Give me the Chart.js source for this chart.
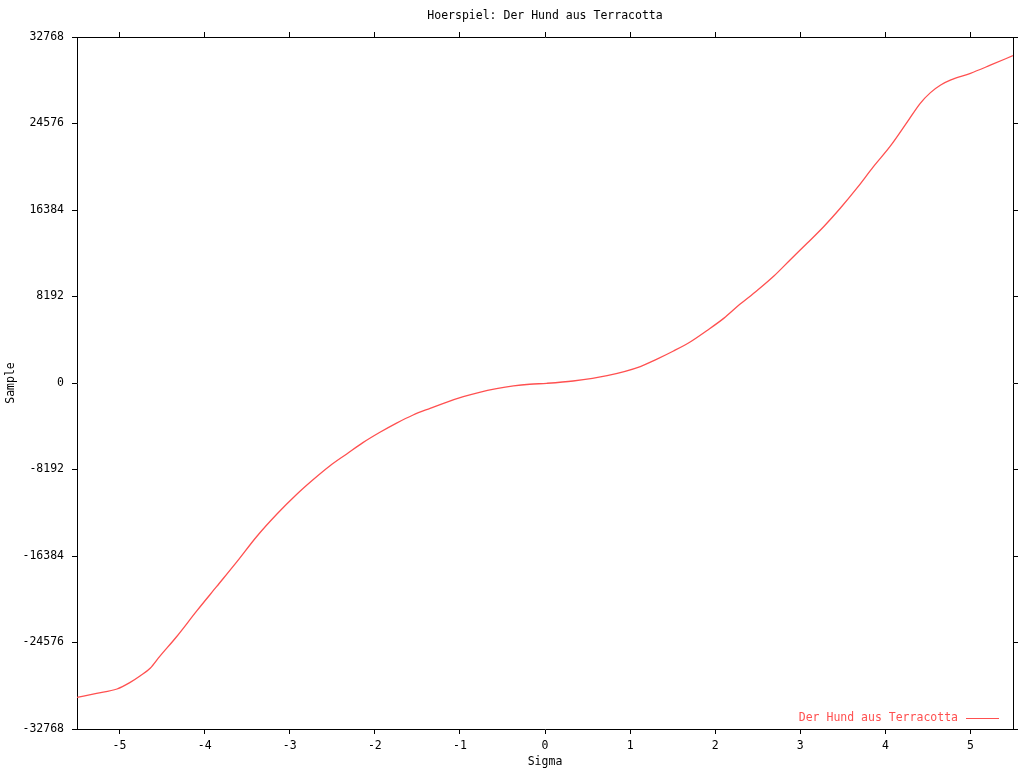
<!DOCTYPE html>
<html>
<head>
<meta charset="utf-8">
<title>Hoerspiel: Der Hund aus Terracotta</title>
<script src="https://cdn.jsdelivr.net/npm/chart.js@4.4.0/dist/chart.umd.min.js"></script>
<style>
  html, body { margin: 0; padding: 0; background: #fff; }
  #wrap { width: 1024px; height: 768px; }
</style>
</head>
<body>
<div id="wrap"><canvas id="sampleChart" width="1024" height="768"></canvas></div>
<script>
const sigmaValues = [-5.50, -5.27, -5.03, -4.88, -4.76, -4.64, -4.53, -4.33, -4.09, -3.86,
    -3.62, -3.39, -3.15, -2.92, -2.73, -2.53, -2.33, -2.14, -1.94, -1.75,
    -1.55, -1.35, -1.16, -0.96, -0.77, -0.57, -0.37, -0.18, 0.02, 0.33,
    0.73, 1.12, 1.31, 1.51, 1.71, 1.90, 2.10, 2.29, 2.49, 2.69,
    2.88, 3.08, 3.28, 3.47, 3.67, 3.86, 4.06, 4.26, 4.41, 4.53,
    4.65, 4.77, 5.00, 5.24, 5.50];
const sampleValues = [-29770, -29390, -28980, -28380, -27750, -27020, -25920, -24030, -21560, -19290,
    -16920, -14560, -12410, -10560, -9190, -7860, -6720, -5650, -4670, -3820,
    -3030, -2400, -1830, -1300, -880, -540, -280, -120, -30, 190,
    690, 1550, 2240, 3030, 3910, 4950, 6120, 7450, 8740, 10130,
    11650, 13230, 14850, 16550, 18500, 20490, 22450, 24750, 26490, 27500,
    28220, 28700, 29330, 30120, 31000];
const xTicks = [-5, -4, -3, -2, -1, 0, 1, 2, 3, 4, 5];
const yTicks = [-32768, -24576, -16384, -8192, 0, 8192, 16384, 24576, 32768];

const seriesName = 'Der Hund aus Terracotta';
const lineRed = '#ff5050';
const monoFont = { family: "'DejaVu Sans Mono', 'Liberation Mono', monospace", size: 11.5 };

const points = sigmaValues.map((s, i) => ({ x: s, y: sampleValues[i] }));

const setTicks = (values) => (scale) => {
    scale.ticks = values.map(v => ({ value: v }));
};

const tickGrid = {
    drawOnChartArea: false,
    drawTicks: true,
    tickLength: 5,
    color: '#000',
    lineWidth: 1
};
const axisBorder = { display: true, color: '#000', width: 1 };

// legend sample drawn inside the plot, bottom right, like gnuplot
const gnuLegend = {
    id: 'gnuLegend',
    afterDraw(chart) {
        const { ctx, chartArea } = chart;
        const y = chartArea.bottom - 11;
        const lineEnd = chartArea.right - 14;
        const lineStart = lineEnd - 33;
        ctx.save();
        ctx.font = `${monoFont.size}px ${monoFont.family}`;
        ctx.fillStyle = lineRed;
        ctx.textAlign = 'right';
        ctx.textBaseline = 'middle';
        ctx.fillText(seriesName, lineStart - 8, y);
        ctx.strokeStyle = lineRed;
        ctx.lineWidth = 1;
        ctx.beginPath();
        ctx.moveTo(lineStart, y + 0.5);
        ctx.lineTo(lineEnd, y + 0.5);
        ctx.stroke();
        ctx.restore();
    }
};

new Chart(document.getElementById('sampleChart'), {
    type: 'line',
    data: {
        datasets: [{
            label: seriesName,
            data: points,
            borderColor: lineRed,
            borderWidth: 1.3,
            pointRadius: 0,
            fill: false,
            cubicInterpolationMode: 'monotone'
        }]
    },
    options: {
        responsive: false,
        animation: false,
        layout: { padding: 0 },
        plugins: {
            legend: { display: false },
            tooltip: { enabled: false }
        },
        scales: {
            x: {
                type: 'linear',
                position: 'bottom',
                min: -5.5,
                max: 5.5,
                afterBuildTicks: setTicks(xTicks),
                afterFit: (scale) => { scale.height = 39; },
                grid: tickGrid,
                border: axisBorder,
                ticks: { color: '#000', font: monoFont, padding: 5, maxRotation: 0 },
                title: {
                    display: true,
                    text: 'Sigma',
                    color: '#000',
                    font: { ...monoFont, lineHeight: 1.0 },
                    padding: { top: 0, bottom: 0 }
                }
            },
            x2: {
                type: 'linear',
                position: 'top',
                min: -5.5,
                max: 5.5,
                afterBuildTicks: setTicks(xTicks),
                afterFit: (scale) => { scale.height = 37; },
                grid: tickGrid,
                border: axisBorder,
                ticks: { display: false },
                title: {
                    display: true,
                    text: 'Hoerspiel: Der Hund aus Terracotta',
                    color: '#000',
                    font: { ...monoFont, lineHeight: 1.2 },
                    padding: { top: 9, bottom: 0 }
                }
            },
            y: {
                type: 'linear',
                position: 'left',
                min: -32768,
                max: 32768,
                afterBuildTicks: setTicks(yTicks),
                afterFit: (scale) => { scale.width = 77; },
                grid: tickGrid,
                border: axisBorder,
                ticks: {
                    color: '#000',
                    font: monoFont,
                    padding: 8,
                    callback: (v) => String(v)
                },
                title: {
                    display: true,
                    text: 'Sample',
                    color: '#000',
                    font: { ...monoFont, lineHeight: 1.2 },
                    padding: { top: 4, bottom: 0 }
                }
            },
            y2: {
                type: 'linear',
                position: 'right',
                min: -32768,
                max: 32768,
                afterBuildTicks: setTicks(yTicks),
                afterFit: (scale) => { scale.width = 11; },
                grid: tickGrid,
                border: axisBorder,
                ticks: { display: false }
            }
        }
    },
    plugins: [gnuLegend]
});
</script>
</body>
</html>
